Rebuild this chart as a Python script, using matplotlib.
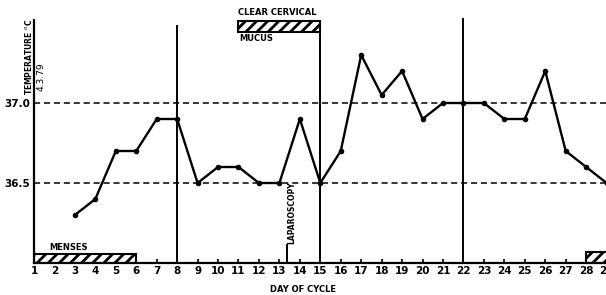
import matplotlib.pyplot as plt
import matplotlib as mpl

days = list(range(3, 30))
temps = [36.3, 36.4, 36.7, 36.7, 36.9, 36.9, 36.5, 36.6, 36.6, 36.5, 36.5,
         36.9, 36.5, 36.7, 37.3, 37.05, 37.2, 36.9, 37.0, 37.0, 37.0, 36.9,
         36.9, 37.2, 36.7, 36.6, 36.5]
tick_days = list(range(1, 30))
ref_temps = [36.5, 37.0]
menses = (1, 6)
mucus = (11, 15)
next_menses = 28
laparoscopy_day = 13.35
marker_days = [8, 15, 22]

mpl.rcParams["hatch.linewidth"] = 2.0
mpl.rcParams["font.family"] = "DejaVu Sans"

W, H = 606, 295
fig = plt.figure(figsize=(W / 100, H / 100), dpi=100)
x0, px_day = 34, 20.45
y_bot, px_deg = 263, 160
xmax, ymax = 29.6, 37.52
ax = fig.add_axes([x0 / W, (H - y_bot) / H,
                   (xmax - 1) * px_day / W, (ymax - 36.0) * px_deg / H])
ax.set_xlim(1, xmax)
ax.set_ylim(36.0, ymax)

for s in ["top", "right"]:
    ax.spines[s].set_visible(False)
ax.spines["left"].set_linewidth(1.6)
ax.spines["bottom"].set_linewidth(1.6)

# reference dashed lines
for t in ref_temps:
    ax.axhline(t, color="black", lw=1.1, ls=(0, (4, 2.5)), zorder=1)

# temperature curve
ax.plot(days, temps, color="black", lw=1.7, marker="o", ms=3, zorder=3)

# vertical marker lines
ax.vlines(8, 36.0, 37.49, color="black", lw=1.4, clip_on=False)
ax.vlines(22, 36.0, 37.53, color="black", lw=1.4, clip_on=False)
ax.vlines(15, 36.0, 37.45, color="black", lw=1.4, clip_on=False)

# hatched bars
ax.bar(menses[0], 0.058, width=menses[1] - menses[0], bottom=36.0, align="edge",
       color="white", edgecolor="black", hatch="///", lw=1.5, zorder=2)
ax.bar(mucus[0], 0.07, width=mucus[1] - mucus[0], bottom=37.443, align="edge",
       color="white", edgecolor="black", hatch="///", lw=1.5, zorder=2,
       clip_on=False)
ax.bar(next_menses, 0.068, width=2, bottom=36.0, align="edge",
       color="white", edgecolor="black", hatch="///", lw=1.5, zorder=2,
       clip_on=False)

tf = dict(fontsize=6, fontweight="bold")
ax.text(1.75, 36.07, "MENSES", ha="left", va="bottom", **tf)
ax.text(mucus[0], 37.535, "CLEAR CERVICAL", ha="left", va="bottom", clip_on=False, **tf)
ax.text(mucus[0] + 0.05, 37.43, "MUCUS", ha="left", va="top", **tf)

# laparoscopy
ax.vlines(laparoscopy_day, 36.0, 36.12, color="black", lw=1.4)
ax.text(laparoscopy_day + 0.05, 36.12, "LAPAROSCOPY", rotation=90, ha="left",
        va="bottom", fontsize=5.5, fontweight="bold")

ax.set_xticks(tick_days)
ax.set_xticklabels([str(d) for d in tick_days], fontsize=7.5, fontweight="bold")
ax.tick_params(axis="x", direction="in", length=3, width=1.2, pad=2)
ax.set_yticks(ref_temps)
ax.set_yticklabels(["36.5", "37.0"], fontsize=7.5, fontweight="bold")
ax.tick_params(axis="y", length=0, pad=3)

fig.text(303 / W, 1 - 289 / H, "DAY OF CYCLE", ha="center", va="center",
         fontsize=6, fontweight="bold")
fig.text(28 / W, 1 - 57 / H, "TEMPERATURE $^{o}$C", rotation=90, ha="center",
         va="center", fontsize=5.5, fontweight="bold")
fig.text(41 / W, 1 - 77 / H, "4.3.79", rotation=90, ha="center", va="center",
         fontsize=6.5)

fig.savefig("out.png", dpi=100)
